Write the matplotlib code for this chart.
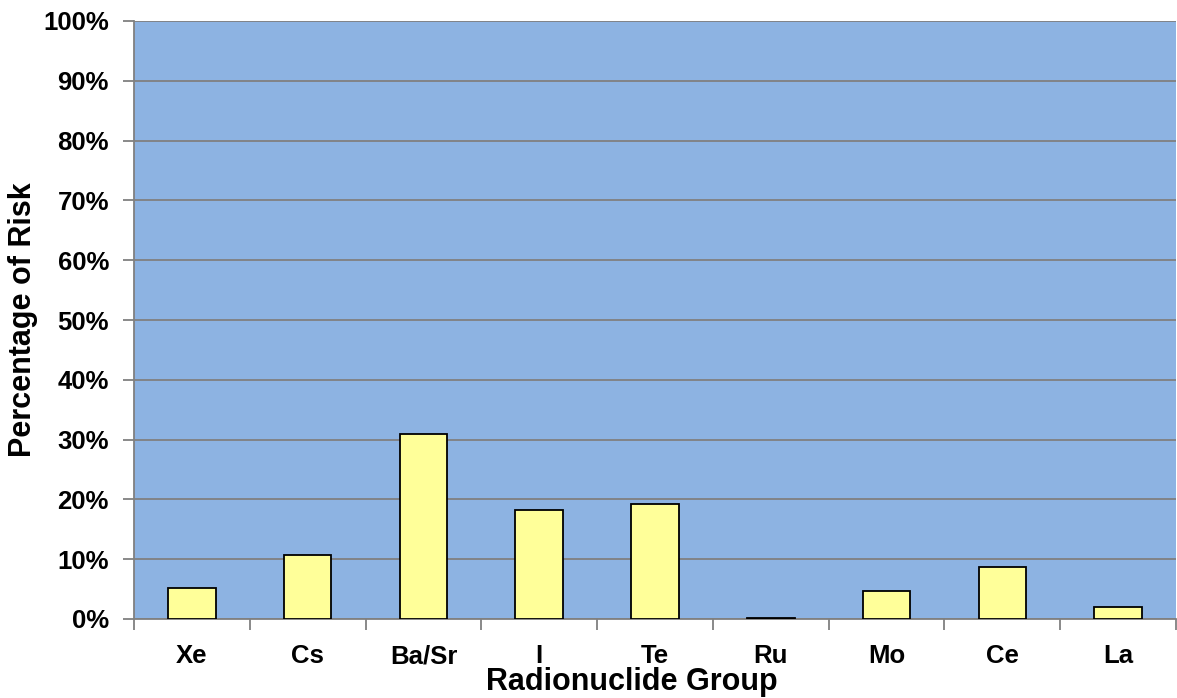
import matplotlib.pyplot as plt
import numpy as np
from matplotlib.ticker import FuncFormatter, FixedLocator

plt.rcParams['font.family'] = ['Liberation Sans', 'DejaVu Sans']
plt.rcParams['font.weight'] = 'bold'

# risk share per radionuclide group (%)
groups = ['Xe', 'Cs', 'Ba/Sr', 'I', 'Te', 'Ru', 'Mo', 'Ce', 'La']
risk_pct = [5.2, 10.75, 30.9, 18.3, 19.3, 0.2, 4.6, 8.75, 2.05]

fig = plt.figure(figsize=(11.77, 6.98), dpi=100)
ax = fig.add_axes([134 / 1177, 1 - 619 / 698, (1176 - 134) / 1177, (619 - 21) / 698])

x = np.arange(len(groups))
ax.set_facecolor('#8DB3E2')
ax.bar(x, risk_pct, width=0.41, color='#FFFF99', edgecolor='black', linewidth=1.3, zorder=3)

ax.set_xlim(-0.5, len(groups) - 0.5)
ax.set_ylim(0, 100)
ax.set_yticks(np.arange(0, 101, 10))
ax.yaxis.set_major_formatter(FuncFormatter(lambda v, p: f'{int(v)}%'))
ax.yaxis.grid(True, color='#808080', linewidth=1.3, zorder=1)

# category labels at centres, tick marks between categories
ax.set_xticks(x)
ax.set_xticklabels(groups)
ax.tick_params(axis='x', which='major', length=0, pad=18, labelsize=18.5)
ax.xaxis.set_minor_locator(FixedLocator(np.arange(-0.5, len(groups), 1.0)))
ax.tick_params(axis='x', which='minor', length=8, width=1.3, color='#808080')
ax.tick_params(axis='y', length=8, width=1.3, color='#808080', pad=10, labelsize=18.5)

for side in ['top', 'right']:
    ax.spines[side].set_visible(False)
for side in ['left', 'bottom']:
    ax.spines[side].set_color('#808080')
    ax.spines[side].set_linewidth(1.3)

ax.set_xlabel('Radionuclide Group', fontsize=22, fontweight='bold')
ax.xaxis.set_label_coords((632 - 134) / (1176 - 134), -0.08)
ax.set_ylabel('Percentage of Risk', fontsize=22, fontweight='bold')
ax.yaxis.set_label_coords(-0.092, 0.5)

plt.savefig('out.png')
